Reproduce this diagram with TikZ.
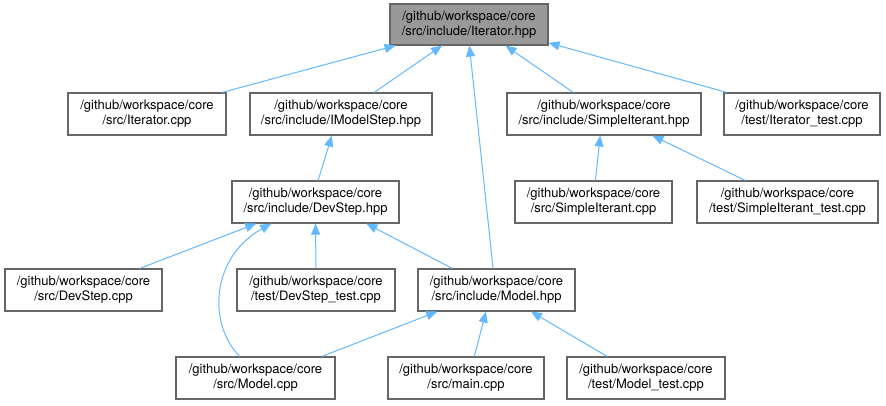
\documentclass[tikz,border=0pt]{standalone}
\usepackage{fontspec}
\setmainfont{TeX Gyre Heros}
\usetikzlibrary{arrows.meta}
\definecolor{edgeblue}{HTML}{63B8FF}
\definecolor{boxborder}{HTML}{666666}
\definecolor{topfill}{HTML}{999999}
\tikzset{
  filebox/.style={draw=boxborder, line width=1.1pt, fill=white, inner sep=0pt,
    minimum height=42pt, align=center, font=\fontsize{13}{15}\selectfont},
  topbox/.style={filebox, fill=topfill},
  depedge/.style={draw=edgeblue, line width=1pt, -{Triangle[length=11pt,width=9pt]}}
}
\begin{document}
\begin{tikzpicture}[x=1pt,y=1pt]
\useasboundingbox (0,0) rectangle (886,-406);
\node[topbox, minimum width=158pt, minimum height=41pt] (top) at (469,-24.5) {/github/workspace/core\\/src/include/Iterator.hpp};
\node[filebox, minimum width=158pt] (itcpp) at (147,-114) {/github/workspace/core\\/src/Iterator.cpp};
\node[filebox, minimum width=182pt] (imodel) at (341,-114) {/github/workspace/core\\/src/include/IModelStep.hpp};
\node[filebox, minimum width=194pt] (sihpp) at (604,-114) {/github/workspace/core\\/src/include/SimpleIterant.hpp};
\node[filebox, minimum width=156pt] (ittest) at (802,-114) {/github/workspace/core\\/test/Iterator\_test.cpp};
\node[filebox, minimum width=167pt] (devhpp) at (315.5,-202) {/github/workspace/core\\/src/include/DevStep.hpp};
\node[filebox, minimum width=157pt] (sicpp) at (593.5,-202) {/github/workspace/core\\/src/SimpleIterant.cpp};
\node[filebox, minimum width=181pt] (sitest) at (787.5,-202) {/github/workspace/core\\/test/SimpleIterant\_test.cpp};
\node[filebox, minimum width=157pt] (devcpp) at (83.5,-290) {/github/workspace/core\\/src/DevStep.cpp};
\node[filebox, minimum width=158pt] (devtest) at (316,-290) {/github/workspace/core\\/test/DevStep\_test.cpp};
\node[filebox, minimum width=157pt] (modelhpp) at (496.5,-290) {/github/workspace/core\\/src/include/Model.hpp};
\node[filebox, minimum width=159pt] (modelcpp) at (255.5,-378) {/github/workspace/core\\/src/Model.cpp};
\node[filebox, minimum width=156pt] (mainc) at (466,-378) {/github/workspace/core\\/src/main.cpp};
\node[filebox, minimum width=158pt] (mtest) at (646,-378) {/github/workspace/core\\/test/Model\_test.cpp};

\draw[depedge] (itcpp.16.5) -- (top.-164.6);
\draw[depedge] (imodel.33.3) -- (top.-142.1);
\draw[depedge] (modelhpp.99.5) -- (top.-89);
\draw[depedge] (sihpp.145.9) -- (top.-30.3);
\draw[depedge] (ittest.164.4) -- (top.-13.2);
\draw[depedge] (devhpp.83.2) -- (imodel.-113.2);
\draw[depedge] (sicpp.85.9) -- (sihpp.-100.8);
\draw[depedge] (sitest.153.7) -- (sihpp.-24.5);
\draw[depedge] (devcpp.21.4) -- (devhpp.-160.1);
\draw[depedge] (modelcpp.126.4) .. controls (208,-325) and (210,-258) .. (devhpp.-154.7);
\draw[depedge] (devtest.north) -- (devhpp.south);
\draw[depedge] (modelhpp.154.2) -- (devhpp.-23.5);
\draw[depedge] (modelcpp.18.6) -- (modelhpp.-160.7);
\draw[depedge] (mainc.69.1) -- (modelhpp.-116);
\draw[depedge] (mtest.151.1) -- (modelhpp.-32.7);
\end{tikzpicture}
\end{document}
